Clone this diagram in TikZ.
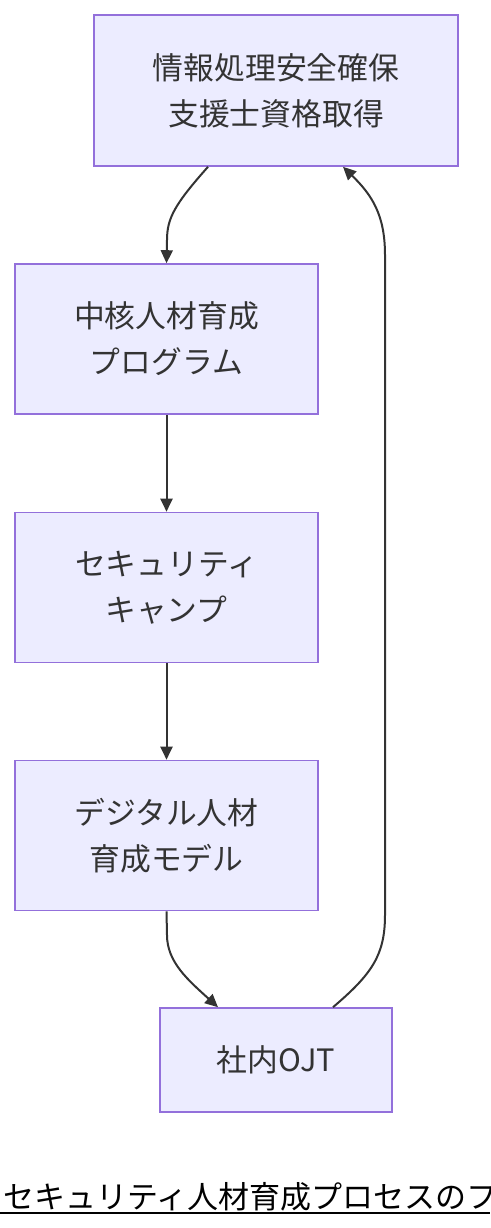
\documentclass[tikz,border=0pt]{standalone}
\usepackage{fontspec}
\newfontfamily\jp{Noto Sans CJK JP}
\usetikzlibrary{arrows.meta}
\definecolor{nodefill}{HTML}{ECECFF}
\definecolor{nodeline}{HTML}{9370DB}
\definecolor{edgecol}{HTML}{333333}
\begin{document}
\begin{tikzpicture}[x=1pt,y=-1pt,
  box/.style={draw=nodeline,fill=nodefill,line width=1.6pt,text=edgecol,align=center,
    font=\jp\fontsize{30.8}{46}\selectfont,inner sep=0pt},
  conn/.style={draw=edgecol,line width=2pt,-{Triangle[length=13pt,width=12pt]}}]
\useasboundingbox (0,0) rectangle (490,1228);
\node[box,minimum width=364pt,minimum height=151pt] (a) at (276,90.5) {情報処理安全確保\\支援士資格取得};
\node[box,minimum width=303pt,minimum height=150pt] (b) at (166.5,339) {中核人材育成\\プログラム};
\node[box,minimum width=303pt,minimum height=150pt] (c) at (166.5,587.5) {セキュリティ\\キャンプ};
\node[box,minimum width=303pt,minimum height=150pt] (d) at (166.5,835.5) {デジタル人材\\育成モデル};
\node[box,minimum width=232pt,minimum height=104pt] (e) at (276,1060) {社内OJT};
\coordinate (a1) at ([xshift=-68pt]a.south);
\coordinate (a2) at ([xshift=67pt]a.south);
\coordinate (e1) at ([xshift=-58pt]e.north);
\coordinate (e2) at ([xshift=57pt]e.north);
\draw[conn] (a1) .. controls (175,204) and (167,218) .. (167,240) -- (b.north);
\draw[conn] (b) -- (c);
\draw[conn] (c) -- (d);
\draw[conn] (d.south) -- (167,935) .. controls (167,962) and (188,980) .. (e1);
\draw[conn] (e2) .. controls (372,974) and (385,955) .. (385,915) -- (385,255) .. controls (385,215) and (372,195) .. (a2);
\node[anchor=base west,inner sep=0pt,text=black,font=\jp\fontsize{31}{36}\selectfont] (t) at (3,1208) {セキュリティ人材育成プロセスのフロー};
\coordinate (u1) at (0,1213);
\coordinate (u2) at (490,1213);
\draw[black,line width=2pt] (u1) -- (u2);
\end{tikzpicture}
\end{document}
